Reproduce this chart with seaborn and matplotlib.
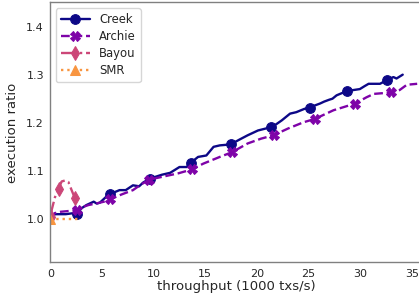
import numpy as np
import pandas as pd
import matplotlib
matplotlib.use("Agg")
import matplotlib.pyplot as plt
import seaborn as sns

# ---- data ----
creek_x = [0.05, 0.3, 0.5, 1.5, 2.2, 2.55, 3.0, 3.5, 4.2, 4.5, 4.8, 5.6, 5.8, 6.7, 7.3, 8.0, 8.6, 9.0, 9.65,
           10.8, 11.6, 12.5, 13.2, 13.6, 14.3, 15.1, 15.8, 16.4, 17.45, 18.3, 19.1, 20.1, 21.4, 21.8,
           22.4, 23.2, 23.8, 24.6, 25.1, 25.6, 26.1, 26.5, 27.0, 27.3, 27.7, 28.7, 29.95, 30.4, 30.8,
           31.9, 32.6, 33.2, 33.5, 34.1]
creek_y = [1.000, 1.008, 1.010, 1.010, 1.012, 1.010, 1.022, 1.029, 1.036, 1.032, 1.034, 1.050, 1.052, 1.060,
           1.060, 1.070, 1.068, 1.076, 1.084, 1.092, 1.096, 1.108, 1.108, 1.117, 1.129, 1.132, 1.150, 1.153,
           1.155, 1.165, 1.174, 1.184, 1.191, 1.196, 1.205, 1.219, 1.222, 1.229, 1.230, 1.236, 1.240,
           1.244, 1.248, 1.250, 1.257, 1.266, 1.270, 1.276, 1.281, 1.281, 1.289, 1.295, 1.292, 1.300]
creek_marks = [2.55, 5.8, 9.65, 13.6, 17.45, 21.4, 25.1, 28.7, 32.6]

archie_x = [0.05, 0.4, 1.0, 2.0, 2.55, 3.0, 3.7, 4.6, 5.2, 5.8, 6.9, 8.0, 8.8, 9.6, 10.9, 12.4, 13.7,
            14.8, 16.4, 17.6, 19.1, 20.4, 21.6, 23.0, 24.5, 25.6, 27.4, 28.3, 29.5, 30.6, 31.3,
            33.0, 33.8, 34.5, 35.5]
archie_y = [1.000, 1.012, 1.015, 1.017, 1.019, 1.024, 1.029, 1.033, 1.036, 1.041, 1.051, 1.060, 1.072,
            1.082, 1.088, 1.095, 1.103, 1.115, 1.129, 1.139, 1.157, 1.167, 1.174, 1.188, 1.201, 1.208,
            1.226, 1.232, 1.240, 1.253, 1.260, 1.263, 1.268, 1.279, 1.281]
archie_marks = [2.55, 5.8, 9.6, 13.7, 17.6, 21.6, 25.6, 29.5, 33.0]

bayou_x = [0.05, 0.15, 0.45, 0.8, 1.1, 1.42, 1.75, 2.1, 2.39, 2.5]
bayou_y = [1.005, 1.020, 1.045, 1.063, 1.078, 1.080, 1.077, 1.058, 1.043, 1.035]
bayou_marks = [0.05, 0.8, 2.39]

smr_x = [0.0, 0.5, 1.0, 1.5, 2.0, 2.5, 2.7]
smr_y = [1.000, 1.000, 1.000, 1.000, 1.000, 1.000, 1.000]
smr_marks = [0.0]

series = ["Creek", "Archie", "Bayou", "SMR"]

# ---- styling ----
sns.set_style("white")
plt.rcParams["font.family"] = ["DejaVu Sans"]
plt.rcParams["axes.edgecolor"] = "#808080"

pal = sns.color_palette("plasma", as_cmap=True)
colors = [pal(0.0), pal(0.25), pal(0.5), pal(0.75)]

fig = plt.figure(figsize=(4.19, 3.0), dpi=100)
ax = fig.add_axes([0.12, 0.1257, 0.888, 0.866])

specs = [
    (creek_x, creek_y, creek_marks, "-", "o", 7),
    (archie_x, archie_y, archie_marks, "--", "X", 7),
    (bayou_x, bayou_y, bayou_marks, "-.", "d", 7),
    (smr_x, smr_y, smr_marks, ":", "^", 7),
]

for name, col, (xs, ys, mks, ls, mk, ms) in zip(series, colors, specs):
    df = pd.DataFrame({"x": xs, "y": ys})
    idx = [int(np.argmin(np.abs(np.array(xs) - m))) for m in mks]
    sns.lineplot(data=df, x="x", y="y", ax=ax, color=col, linestyle=ls, linewidth=1.7,
                 marker=mk, markersize=ms, markevery=idx, markeredgecolor=col,
                 label=name, sort=False)

ax.set_xlim(0, 36)
ax.set_ylim(0.91, 1.45)
ax.set_xticks([0, 5, 10, 15, 20, 25, 30, 35])
ax.set_yticks([1.0, 1.1, 1.2, 1.3, 1.4])
ax.tick_params(axis="both", labelsize=8, length=2.5, color="#808080", pad=2)
ax.set_xlabel("throughput (1000 txs/s)", fontsize=9.5, labelpad=1)
ax.set_ylabel("execution ratio", fontsize=9.5, labelpad=5)
for s in ax.spines.values():
    s.set_linewidth(1.0)

leg = ax.legend(loc="upper left", fontsize=8.4, frameon=True, handlelength=2.5,
                borderpad=0.4, labelspacing=0.35, handletextpad=0.8)
leg.get_frame().set_edgecolor("#cccccc")

fig.savefig("out.png", dpi=100)
